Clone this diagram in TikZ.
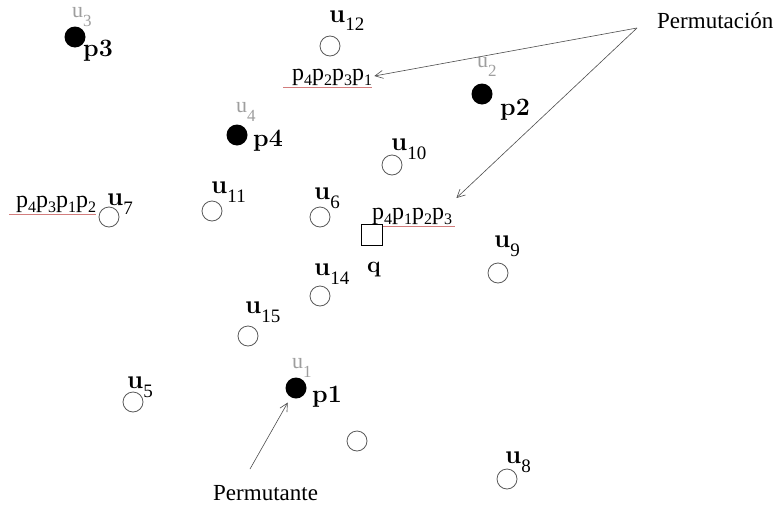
\documentclass[tikz,border=0pt]{standalone}
\usepackage{fontspec}
\newfontfamily\tms{Liberation Serif}
\usetikzlibrary{arrows.meta}
\definecolor{lg}{gray}{0.62}
\definecolor{uline}{RGB}{210,125,125}
\newcommand{\ulb}[1]{{\fontsize{26}{26}\selectfont\bfseries u}\raisebox{-9pt}{\tms\fontsize{19}{19}\selectfont #1}}
\newcommand{\ugr}[1]{{\tms\fontsize{22}{22}\selectfont u\raisebox{-9pt}{\fontsize{17}{17}\selectfont #1}}}
\newcommand{\pp}[1]{p\raisebox{-5pt}{\fontsize{16}{16}\selectfont #1}}
\begin{document}
\begin{tikzpicture}[x=1pt,y=-1pt,
  opt/.style={circle,draw=black!65,line width=0.8pt,minimum size=20pt,inner sep=0pt},
  fpt/.style={circle,fill=black,minimum size=21pt,inner sep=0pt},
  lab/.style={anchor=base west,inner sep=0pt},
  plab/.style={anchor=base west,inner sep=0pt,font=\fontsize{25}{25}\selectfont\bfseries},
  perm/.style={anchor=base west,inner sep=0pt,font=\tms\fontsize{24}{24}\selectfont},
  txt/.style={anchor=base west,inner sep=0pt,font=\tms\fontsize{23}{23}\selectfont},
  ul/.style={draw=uline,line width=0.8pt},
  arr/.style={draw=black!70,line width=0.6pt,-{Straight Barb[length=8pt,width=8pt]}}]
\useasboundingbox (0,0) rectangle (778,506);
% filled points
\node[fpt] (p3) at (75,37) {};
\node[fpt] (p2) at (482,94) {};
\node[fpt] (p4) at (237,135) {};
\node[fpt] (p1) at (296,388) {};
\node[lab,text=lg] (l3) at (72,17) {\ugr{3}};
\node[lab,text=lg] (l2) at (477,67) {\ugr{2}};
\node[lab,text=lg] (l4) at (236,112) {\ugr{4}};
\node[lab,text=lg] (l1) at (292,368) {\ugr{1}};
\node[plab] (b3) at (83,56) {p3};
\node[plab] (b2) at (500,115) {p2};
\node[plab] (b4) at (253,146) {p4};
\node[plab] (b1) at (312,402) {p1};
% hollow points
\node[opt] (u12) at (330,46) {};
\node[opt] (u10) at (392,165) {};
\node[opt] (u7) at (109,217) {};
\node[opt] (u11) at (212,211) {};
\node[opt] (u6) at (320,217) {};
\node[opt] (u9) at (498,273) {};
\node[opt] (u14) at (320,296) {};
\node[opt] (u15) at (248,336) {};
\node[opt] (u5) at (133,402) {};
\node[opt] (u0) at (357,441) {};
\node[opt] (u8) at (507,479) {};
\node[lab] (t12) at (329,22) {\ulb{12}};
\node[lab] (t10) at (391,150) {\ulb{10}};
\node[lab] (t7) at (107,205) {\ulb{7}};
\node[lab] (t11) at (211,193) {\ulb{11}};
\node[lab] (t6) at (314,199) {\ulb{6}};
\node[lab] (t9) at (494,247) {\ulb{9}};
\node[lab] (t14) at (314,275) {\ulb{14}};
\node[lab] (t15) at (245,313) {\ulb{15}};
\node[lab] (t5) at (127,388) {\ulb{5}};
\node[lab] (t8) at (505,463) {\ulb{8}};
% permutations
\node[perm] (pA) at (292,80) {\pp{4}\pp{2}\pp{3}\pp{1}};
\node[perm] (pB) at (16,207) {\pp{4}\pp{3}\pp{1}\pp{2}};
\node[perm] (pC) at (372,219) {\pp{4}\pp{1}\pp{2}\pp{3}};
\draw[ul] ([xshift=-9pt,yshift=-7pt]pA.base west) -- ([yshift=-7pt]pA.base east);
\draw[ul] ([xshift=-7pt,yshift=-7pt]pB.base west) -- ([yshift=-7pt]pB.base east);
\draw[ul] ([xshift=-10pt,yshift=-7pt]pC.base west) -- ([xshift=3pt,yshift=-7pt]pC.base east);
% query
\node[draw=black,fill=white,line width=1pt,minimum size=21pt,inner sep=0pt] (q) at (371.5,234.5) {};
\node[lab,font=\fontsize{23}{23}\selectfont\bfseries] (ql) at (367,272) {q};
% texts and arrows
\node[txt] (tion) at (657,28) {Permutación};
\node[txt] (tante) at (213,500) {Permutante};
\coordinate (apex) at (637,28);
\coordinate (tail) at (250,469);
\draw[arr] (apex) -- ([xshift=2pt,yshift=4pt]pA.base east);
\draw[arr] (apex) -- ([xshift=4pt,yshift=21pt]pC.base east);
\draw[arr,shorten >=6pt] (tail) -- (p1);
\end{tikzpicture}
\end{document}
